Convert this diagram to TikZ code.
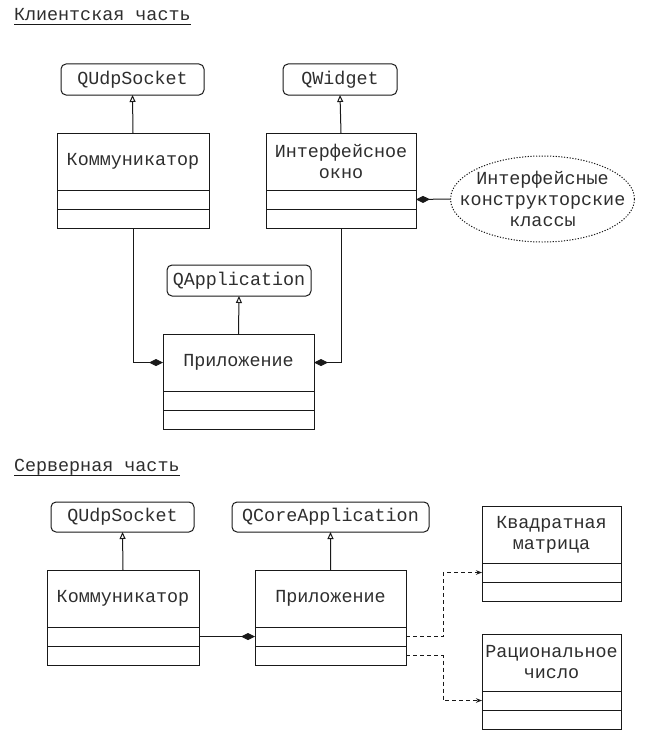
\documentclass[tikz,border=0pt]{standalone}
\usepackage{fontspec}
\setmainfont{Liberation Mono}
\usetikzlibrary{arrows.meta,shapes.geometric}
\definecolor{ink}{rgb}{0.1,0.1,0.1}
\definecolor{txt}{rgb}{0.18,0.18,0.18}
\tikzset{
  basecls/.style={draw, rounded corners=5bp, minimum height=31bp, inner sep=0, outer sep=0},
  clsname/.style={draw, minimum height=57bp, inner sep=0, outer sep=0, align=center},
  comp/.style={draw, minimum height=19bp, inner sep=0, outer sep=0},
  inh/.style={-{Triangle[open,length=7bp,width=6bp]}},
  compo/.style={-{Diamond[length=14bp,width=7bp]}},
  dep/.style={dash pattern=on 4bp off 3bp, -{Stealth[length=6bp,width=4.5bp]}},
  titlenode/.style={anchor=base west, inner sep=0, outer sep=0},
}
\newcommand\umlcls[5]{%
  \node[clsname, minimum width=#4bp, anchor=north west] (#1) at (#2,#3) {#5};
  \node[comp, minimum width=#4bp, anchor=north] (#1a) at (#1.south) {};
  \node[comp, minimum width=#4bp, anchor=north] (#1m) at (#1a.south) {};}
\begin{document}
\begin{tikzpicture}[x=1bp,y=-1bp, line width=1bp, draw=ink, text=txt,
  font=\fontsize{18.4bp}{21bp}\selectfont]
\useasboundingbox (0,0) rectangle (666,745);

% ---------- client ----------
\node[titlenode] (t1) at (14,21) {Клиентская часть};
\draw ([yshift=-3.5bp]t1.base west) -- ([yshift=-3.5bp]t1.base east);

\node[basecls, minimum width=143bp, anchor=north west] (cqudp) at (61,64) {QUdpSocket};
\node[basecls, minimum width=114bp, anchor=north west] (cqw) at (283,64) {QWidget};
\node[basecls, minimum width=144bp, anchor=north west] (cqapp) at (167,265) {QApplication};

\umlcls{ck}{57}{133}{152}{Коммуникатор}
\umlcls{cw}{266}{133}{150}{Интерфейсное\\окно}
\umlcls{ca}{163}{334}{151}{Приложение}

\node[ellipse, draw, dash pattern=on 1.2bp off 1.6bp, minimum width=184bp, minimum height=86bp, inner sep=0] (gui) at (542.5,199) {};
\node[align=center, inner sep=0] (guitext) at (gui.center) {Интерфейсные\\конструкторские\\классы};

\draw[inh] (ck.north) -- (cqudp.south);
\draw[inh] (cw.north) -- (cqw.south);
\draw[inh] (ca.north) -- (cqapp.south);
\draw[compo] (gui.west) -- (cwa.east);
\draw[compo] (ckm.south) |- (ca.west);
\draw[compo] (cwm.south) |- (ca.east);

% ---------- server ----------
\node[titlenode] (t2) at (14,471.5) {Серверная часть};
\draw ([yshift=-3.5bp]t2.base west) -- ([yshift=-3.5bp]t2.base east);

\node[basecls, minimum width=143bp, minimum height=30bp, anchor=north west] (squdp) at (51,502) {QUdpSocket};
\node[basecls, minimum width=197bp, minimum height=30bp, anchor=north west] (sqcore) at (232,502) {QCoreApplication};

\umlcls{sk}{47}{570}{152}{Коммуникатор}
\umlcls{sa}{255}{570}{151}{Приложение}
\umlcls{mx}{482}{506}{139}{Квадратная\\матрица}
\umlcls{rn}{482}{634}{139}{Рациональное\\число}

\draw[inh] (sk.north) -- (squdp.south);
\draw[inh] (sa.north) -- (sqcore.south);
\draw[compo] (ska.east) -- (saa.west);
\draw[dep] (saa.east) -- ++(37,0) |- (mxa.west);
\draw[dep] (sam.east) -- ++(37,0) |- (rna.west);
\end{tikzpicture}
\end{document}
